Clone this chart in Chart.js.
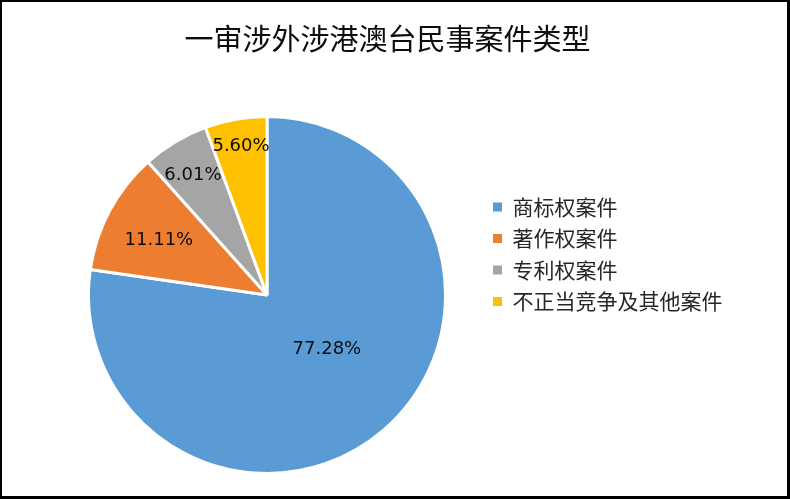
<!DOCTYPE html>
<html>
<head>
<meta charset="utf-8">
<script src="https://cdn.jsdelivr.net/npm/chart.js@4/dist/chart.umd.min.js"></script>
<style>
  html, body { margin: 0; padding: 0; background: #fff; }
  #wrap {
    position: relative; width: 790px; height: 499px; box-sizing: border-box;
    border-left: 2px solid #000; border-top: 2px solid #000;
    border-right: 3px solid #000; border-bottom: 3px solid #000;
    background: #fff;
  }
  #c { display: block; }
</style>
</head>
<body>
<div id="wrap"><canvas id="c"></canvas></div>
<script>
const titleText = '一审涉外涉港澳台民事案件类型';
const categories = ['商标权案件', '著作权案件', '专利权案件', '不正当竞争及其他案件'];
const percentValues = [77.28, 11.11, 6.01, 5.60];
const sliceColors = ['#5B9BD5', '#ED7D31', '#A5A5A5', '#FFC000'];

// label placement style (fraction of radius, angular nudge in degrees)
const labelRadiusFactor = [0.453, 0.678, 0.79, 0.848];
const labelAngleNudge = [-6.9, -1.5, -0.7, 0.2];

const LEGEND_WIDTH = 241;

const legendWidthPlugin = {
  id: 'legendWidth',
  afterInit(chart) {
    const lg = chart.legend;
    if (!lg || lg._patched) return;
    const orig = lg.fit.bind(lg);
    lg.fit = function () { orig(); this.width = LEGEND_WIDTH; };
    lg._patched = true;
  }
};

const sliceLabels = {
  id: 'sliceLabels',
  afterDatasetsDraw(chart) {
    const ctx = chart.ctx;
    const meta = chart.getDatasetMeta(0);
    const ds = chart.data.datasets[0];
    ctx.save();
    ctx.font = '18px "DejaVu Sans", sans-serif';
    ctx.fillStyle = '#0d0d0d';
    ctx.textAlign = 'center';
    ctx.textBaseline = 'middle';
    meta.data.forEach((arc, i) => {
      const p = arc.getProps(['x', 'y', 'startAngle', 'endAngle', 'outerRadius'], true);
      const mid = (p.startAngle + p.endAngle) / 2 + labelAngleNudge[i] * Math.PI / 180;
      const r = p.outerRadius * labelRadiusFactor[i];
      const x = p.x + Math.cos(mid) * r;
      const y = p.y + Math.sin(mid) * r;
      ctx.fillText(ds.data[i].toFixed(2) + '%', x, y);
    });
    ctx.restore();
  }
};

new Chart(document.getElementById('c'), {
  type: 'pie',
  data: {
    labels: categories,
    datasets: [{
      data: percentValues,
      backgroundColor: sliceColors,
      borderColor: '#ffffff',
      borderWidth: 3
    }]
  },
  options: {
    responsive: true,
    maintainAspectRatio: false,
    animation: false,
    events: [],
    layout: { padding: { top: 31.5, bottom: 21, left: 49.5, right: 63.5 } },
    plugins: {
      title: {
        display: true,
        text: titleText,
        color: '#0d0d0d',
        font: { family: '"Noto Sans CJK SC", sans-serif', size: 29, weight: 'normal', lineHeight: 1.2 },
        padding: { top: -11.9, bottom: 58.6 }
      },
      legend: {
        position: 'right',
        align: 'center',
        labels: {
          boxWidth: 9,
          boxHeight: 9,
          padding: 10.5,
          color: '#262626',
          font: { family: '"Noto Sans CJK SC", sans-serif', size: 21 },
          generateLabels(chart) {
            const items = Chart.overrides.pie.plugins.legend.labels.generateLabels(chart);
            return items.map(it => Object.assign(it, { lineWidth: 0, strokeStyle: it.fillStyle }));
          }
        }
      },
      tooltip: { enabled: false }
    }
  },
  plugins: [legendWidthPlugin, sliceLabels]
});
</script>
</body>
</html>
